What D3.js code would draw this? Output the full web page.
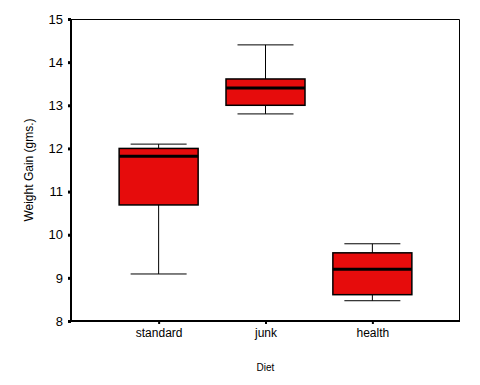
<!DOCTYPE html>
<html>
<head>
<meta charset="utf-8">
<script src="https://cdn.jsdelivr.net/npm/d3@7"></script>
<style>
  body { margin: 0; background: #fff; }
  text { font-family: "Liberation Sans", Arial, sans-serif; fill: #000; }
</style>
</head>
<body>
<div id="chart"></div>
<script>
// diet groups and their box plot stats
var diets = ["standard", "junk", "health"];
var whiskerLow  = [9.09, 12.80, 8.47];
var boxLow      = [10.69, 13.00, 8.61];
var medians     = [11.82, 13.40, 9.20];
var boxHigh     = [12.00, 13.61, 9.58];
var whiskerHigh = [12.10, 14.40, 9.79];
var yTicks = [8, 9, 10, 11, 12, 13, 14, 15];

var width = 480, height = 385;
var margin = {top: 19, right: 20, bottom: 64, left: 71};
var w = width - margin.left - margin.right,
    h = height - margin.top - margin.bottom;

var svg = d3.select("#chart").append("svg")
    .attr("width", width)
    .attr("height", height);

var g = svg.append("g")
    .attr("transform", "translate(" + margin.left + "," + margin.top + ")");

var x = d3.scalePoint().domain(diets).range([0, w]).padding(0.82);
var y = d3.scaleLinear().domain([8, 15]).range([h, 0]);

var data = diets.map(function(d, i) {
    return {diet: d, lo: whiskerLow[i], q1: boxLow[i], med: medians[i], q3: boxHigh[i], hi: whiskerHigh[i]};
});

var boxW = 79, capW = 56;

// frame: thin top/right, heavier left/bottom
g.append("path")
    .attr("d", "M0,0.5H" + (w - 0.5) + "V" + h)
    .attr("fill", "none")
    .attr("stroke", "#000")
    .attr("stroke-width", 1);
g.append("path")
    .attr("d", "M0,0V" + h + "H" + w)
    .attr("fill", "none")
    .attr("stroke", "#000")
    .attr("stroke-width", 2);

// y axis
var yAxis = g.append("g")
    .call(d3.axisLeft(y).tickValues(yTicks).tickSize(3).tickPadding(5).tickFormat(d3.format("d")));
yAxis.select(".domain").remove();
yAxis.selectAll("line").attr("stroke-width", 3);
yAxis.selectAll("text").style("font-size", "13px");

// x axis
var xAxis = g.append("g")
    .attr("transform", "translate(0," + h + ")")
    .call(d3.axisBottom(x).tickSize(3).tickPadding(4));
xAxis.select(".domain").remove();
xAxis.selectAll("line").attr("stroke-width", 2);
xAxis.selectAll("text").style("font-size", "12px");

var boxes = g.selectAll(".box")
    .data(data)
    .enter().append("g")
    .attr("class", "box")
    .attr("transform", function(d) { return "translate(" + x(d.diet) + ",0)"; });

// whisker stems
boxes.append("line")
    .attr("x1", 0).attr("x2", 0)
    .attr("y1", function(d) { return y(d.lo); })
    .attr("y2", function(d) { return y(d.hi); })
    .attr("stroke", "#000");

// caps
boxes.selectAll(".cap")
    .data(function(d) { return [d.lo, d.hi]; })
    .enter().append("line")
    .attr("class", "cap")
    .attr("x1", -capW / 2).attr("x2", capW / 2)
    .attr("y1", function(v) { return y(v); })
    .attr("y2", function(v) { return y(v); })
    .attr("stroke", "#000");

boxes.append("rect")
    .attr("x", -boxW / 2)
    .attr("width", boxW)
    .attr("y", function(d) { return y(d.q3); })
    .attr("height", function(d) { return y(d.q1) - y(d.q3); })
    .attr("fill", "#e60c0c")
    .attr("stroke", "#000")
    .attr("stroke-width", 1.5);

boxes.append("line")
    .attr("x1", -boxW / 2).attr("x2", boxW / 2)
    .attr("y1", function(d) { return y(d.med); })
    .attr("y2", function(d) { return y(d.med); })
    .attr("stroke", "#000")
    .attr("stroke-width", 3);

// axis titles
svg.append("text")
    .attr("transform", "translate(33," + (margin.top + h / 2) + ") rotate(-90)")
    .attr("text-anchor", "middle")
    .style("font-size", "12px")
    .text("Weight Gain (gms.)");

svg.append("text")
    .attr("x", margin.left + w / 2)
    .attr("y", 371)
    .attr("text-anchor", "middle")
    .style("font-size", "10px")
    .text("Diet");
</script>
</body>
</html>
